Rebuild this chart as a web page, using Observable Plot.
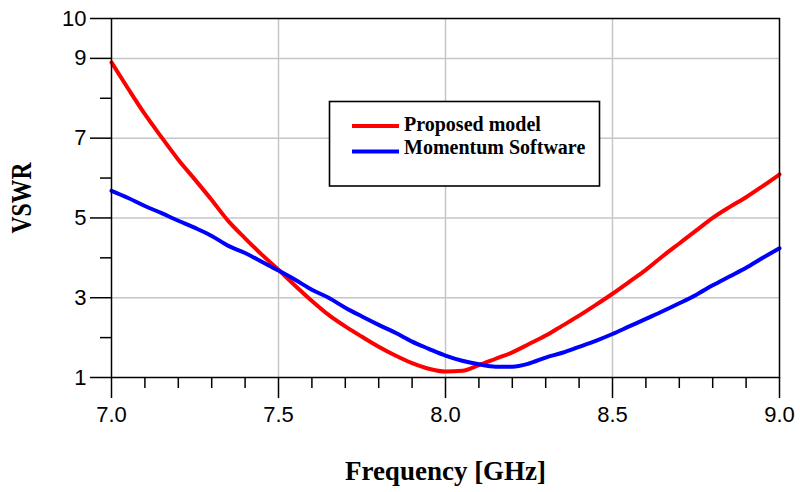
<!DOCTYPE html>
<html>
<head>
<meta charset="utf-8">
<script src="https://cdn.jsdelivr.net/npm/d3@7"></script>
<script src="https://cdn.jsdelivr.net/npm/@observablehq/plot@0.6"></script>
<style>
  html, body { margin: 0; padding: 0; background: white; }
  #wrap { position: relative; width: 800px; height: 492px; }
  #legend { position: absolute; left: 0; top: 0; pointer-events: none; }
</style>
</head>
<body>
<div id="wrap"></div>
<script>
// ---- data ----
const seriesNames = ["Proposed model", "Momentum Software"];
const seriesColors = ["#ff0000", "#0000ff"];

const proposedFreq = [7.00, 7.05, 7.10, 7.15, 7.20, 7.25, 7.30, 7.35, 7.40, 7.45, 7.50, 7.55, 7.60, 7.65, 7.70, 7.75, 7.80, 7.85, 7.90, 7.95, 8.00, 8.05, 8.10, 8.15, 8.20, 8.25, 8.30, 8.35, 8.40, 8.45, 8.50, 8.55, 8.60, 8.65, 8.70, 8.75, 8.80, 8.85, 8.90, 8.95, 9.00];
const proposedVSWR = [8.90, 8.24, 7.60, 7.02, 6.46, 5.96, 5.45, 4.92, 4.49, 4.08, 3.70, 3.30, 2.92, 2.57, 2.28, 2.02, 1.77, 1.55, 1.36, 1.22, 1.15, 1.17, 1.31, 1.47, 1.63, 1.84, 2.05, 2.30, 2.55, 2.82, 3.10, 3.40, 3.70, 4.04, 4.36, 4.68, 5.00, 5.27, 5.52, 5.80, 6.09];

const momentumFreq = [7.00, 7.05, 7.10, 7.15, 7.20, 7.25, 7.30, 7.35, 7.40, 7.45, 7.50, 7.55, 7.60, 7.65, 7.70, 7.75, 7.80, 7.85, 7.90, 7.95, 8.00, 8.05, 8.10, 8.15, 8.20, 8.25, 8.30, 8.35, 8.40, 8.45, 8.50, 8.55, 8.60, 8.65, 8.70, 8.75, 8.80, 8.85, 8.90, 8.95, 9.00];
const momentumVSWR = [5.68, 5.50, 5.30, 5.12, 4.93, 4.75, 4.55, 4.30, 4.12, 3.90, 3.68, 3.45, 3.20, 3.00, 2.75, 2.53, 2.32, 2.12, 1.90, 1.72, 1.55, 1.42, 1.33, 1.27, 1.27, 1.35, 1.50, 1.62, 1.77, 1.92, 2.09, 2.28, 2.47, 2.66, 2.86, 3.07, 3.31, 3.53, 3.75, 4.00, 4.24];

const xMajorTicks = [7.0, 7.5, 8.0, 8.5, 9.0];
const xMinorTicks = [7.1, 7.2, 7.3, 7.4, 7.6, 7.7, 7.8, 7.9, 8.1, 8.2, 8.3, 8.4, 8.6, 8.7, 8.8, 8.9];
const yMajorTicks = [1, 3, 5, 7, 9, 10];
const yMinorTicks = [2, 4, 6, 8];
const xGridValues = [7.5, 8.0, 8.5];
const yGridValues = [3, 5, 7, 9];
const xTitle = "Frequency [GHz]";
const yTitle = "VSWR";

// ---- build tables ----
const proposed = proposedFreq.map((f, i) => ({f, v: proposedVSWR[i]}));
const momentum = momentumFreq.map((f, i) => ({f, v: momentumVSWR[i]}));

const serif = "'Liberation Serif', 'Times New Roman', serif";
const sans = "'Liberation Sans', Arial, Helvetica, sans-serif";

const chart = Plot.plot({
  width: 800,
  height: 492,
  marginLeft: 111,
  marginRight: 21,
  marginTop: 18,
  marginBottom: 115,
  style: {background: "white", fontFamily: sans, color: "black"},
  x: {domain: [7, 9]},
  y: {domain: [1, 10]},
  marks: [
    Plot.ruleX(xGridValues, {stroke: "#c6c6c6", strokeWidth: 1.5}),
    Plot.ruleY(yGridValues, {stroke: "#c6c6c6", strokeWidth: 1.5}),
    Plot.line(proposed, {x: "f", y: "v", stroke: seriesColors[0], strokeWidth: 4, curve: "monotone-x"}),
    Plot.line(momentum, {x: "f", y: "v", stroke: seriesColors[1], strokeWidth: 4, curve: "monotone-x"}),
    Plot.frame({stroke: "black", strokeWidth: 1.5}),
    Plot.axisX(xMajorTicks, {tickSize: 21, tickPadding: 8, tickFormat: d3.format(".1f"), fontSize: 22, label: null, stroke: "black", strokeWidth: 1.5, strokeOpacity: 1}),
    Plot.axisX(xMinorTicks, {tickSize: 11, tickFormat: () => "", label: null, stroke: "black", strokeWidth: 1.5, strokeOpacity: 1}),
    Plot.axisY(yMajorTicks, {tickSize: 21, tickPadding: 4, tickFormat: d3.format("d"), fontSize: 22, label: null, stroke: "black", strokeWidth: 1.5, strokeOpacity: 1}),
    Plot.axisY(yMinorTicks, {tickSize: 11, tickFormat: () => "", label: null, stroke: "black", strokeWidth: 1.5, strokeOpacity: 1}),
    Plot.text([xTitle], {frameAnchor: "bottom", dy: 93.5, text: d => d, fontFamily: serif, fontWeight: "bold", fontSize: 27, lineAnchor: "middle", fill: "black"}),
    Plot.text([yTitle], {frameAnchor: "left", dx: -89.3, text: d => d, rotate: -90, fontFamily: serif, fontWeight: "bold", fontSize: 29, lineAnchor: "middle", fill: "black", className: "ytitle"})
  ]
});

const wrap = document.getElementById("wrap");
wrap.appendChild(chart);

// condense the VSWR title like the reference, anchored explicitly so it stays centred
d3.select(chart).selectAll(".ytitle text")
  .attr("text-anchor", "start")
  .attr("x", -35.5)
  .attr("textLength", 71)
  .attr("lengthAdjust", "spacingAndGlyphs");

// ---- legend overlay ----
const leg = d3.select(wrap).append("svg")
  .attr("id", "legend")
  .attr("width", 800).attr("height", 492);
leg.append("rect")
  .attr("x", 329.5).attr("y", 101.5).attr("width", 270).attr("height", 84.5)
  .attr("fill", "white").attr("stroke", "black").attr("stroke-width", 1.6);
const entryLineY = [126, 151.5];
const entryTextY = [130.5, 154];
seriesNames.forEach((name, i) => {
  leg.append("line")
    .attr("x1", 352).attr("x2", 399)
    .attr("y1", entryLineY[i]).attr("y2", entryLineY[i])
    .attr("stroke", seriesColors[i]).attr("stroke-width", 4);
  leg.append("text")
    .attr("x", 404).attr("y", entryTextY[i])
    .attr("font-family", serif).attr("font-weight", "bold").attr("font-size", 20)
    .attr("fill", "black")
    .text(name);
});
</script>
</body>
</html>
